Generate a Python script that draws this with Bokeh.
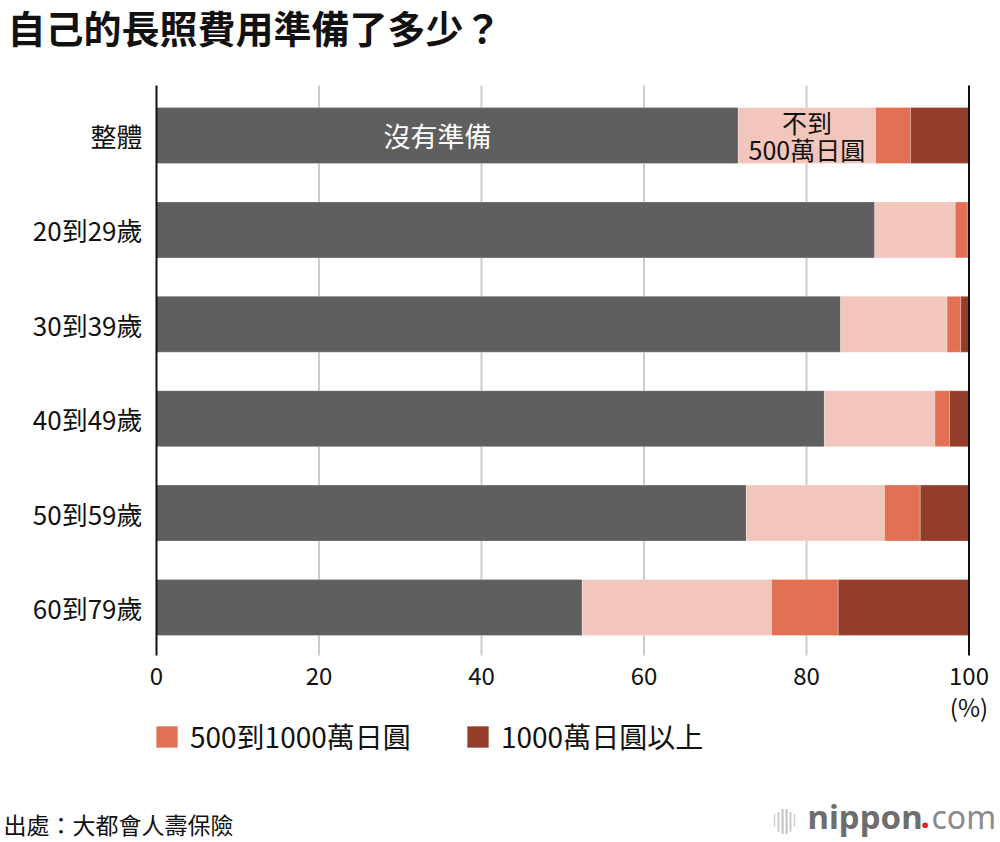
from bokeh.plotting import figure
from bokeh.models import ColumnDataSource, Range1d, Label, Legend, LegendItem
from bokeh.core.properties import value
from bokeh.embed import file_html
from bokeh.resources import INLINE

categories = ["整體", "20到29歲", "30到39歲", "40到49歲", "50到59歲", "60到79歲"]
series_names = ["沒有準備", "不到500萬日圓", "500到1000萬日圓", "1000萬日圓以上"]
none_prep = [71.6, 88.4, 84.2, 82.2, 72.6, 52.4]
under500 = [16.9, 9.9, 13.1, 13.6, 17.0, 23.3]
mid500_1000 = [4.3, 1.5, 1.7, 1.8, 4.4, 8.2]
over1000 = [7.2, 0.2, 1.0, 2.4, 6.0, 16.1]
x_ticks = [0, 20, 40, 60, 80, 100]
x_tick_labels = ["0", "20", "40", "60", "80", "100"]
unit_label = "(%)"
title_text = "自己的長照費用準備了多少？"
source_text = "出處：大都會人壽保險"

colors = ["#5f5f5f", "#f2c6bc", "#e27055", "#943d2a"]
FONT = "Noto Sans CJK TC"

W, H = 1000, 842
# pixel geometry of the plotting area (page pixels)
PL, PR, PT, PB = 156.0, 968.5, 85.0, 655.0
px_x = (PR - PL) / 100.0
ROW0, ROW_STEP = 135.0, 94.4
px_y = ROW_STEP

def dx(page_x):
    return (page_x - PL) / px_x

def dy(page_y):
    return (page_y - ROW0) / px_y

src = ColumnDataSource(dict(
    y=list(range(len(categories))),
    s0=none_prep, s1=under500, s2=mid500_1000, s3=over1000,
))

p = figure(width=W, height=H, output_backend="svg", toolbar_location=None,
           x_range=Range1d(dx(0), dx(W)), y_range=Range1d(dy(H), dy(0)),
           x_axis_type=None, y_axis_type=None,
           min_border=0, min_border_left=0, min_border_right=0,
           min_border_top=0, min_border_bottom=0)
p.outline_line_color = None
p.background_fill_color = "white"
p.border_fill_color = "white"

# vertical grid lines (grey) and the 0 / 100 boundary lines (black)
inner = x_ticks[1:-1]
p.segment(x0=inner, x1=inner, y0=[dy(PT)] * len(inner), y1=[dy(PB)] * len(inner),
          line_color="#cccccc", line_width=2)

rs = p.hbar_stack(["s0", "s1", "s2", "s3"], y="y", height=56 / ROW_STEP, color=colors,
                  line_color="white", line_alpha=0.35, line_width=0.8, source=src)

edges = [x_ticks[0], x_ticks[-1]]
p.segment(x0=edges, x1=edges, y0=[dy(PT)] * 2, y1=[dy(PB)] * 2,
          line_color="#111111", line_width=2)

# x tick labels
p.text(x=x_ticks, y=[dy(675)] * len(x_ticks), text=x_tick_labels,
       text_font=value(FONT), text_font_size="24px", text_color="#111111",
       text_align="center", text_baseline="middle")
p.text(x=[x_ticks[-1]], y=[dy(706)], text=[unit_label],
       text_font=value(FONT), text_font_size="24px", text_color="#111111",
       text_align="center", text_baseline="middle")

# y category labels
p.text(x=[dx(142)] * len(categories), y=list(range(len(categories))), text=categories,
       text_font=value(FONT), text_font_size="26px", text_color="#111111",
       text_align="right", text_baseline="middle")

# in-bar annotations
p.add_layout(Label(x=dx(437), y=0, text=series_names[0], text_font=FONT,
                   text_font_size="27px", text_color="white",
                   text_align="center", text_baseline="middle"))
mid_x = none_prep[0] + under500[0] / 2
p.add_layout(Label(x=mid_x, y=dy(121), text="不到", text_font=FONT,
                   text_font_size="25px", text_color="#111111",
                   text_align="center", text_baseline="middle"))
p.add_layout(Label(x=mid_x, y=dy(148), text="500萬日圓", text_font=FONT,
                   text_font_size="25px", text_color="#111111",
                   text_align="center", text_baseline="middle"))

# title
p.add_layout(Label(x=dx(7), y=dy(26), text=title_text, text_font=FONT,
                   text_font_size="38px", text_font_style="bold", text_color="#111111",
                   text_align="left", text_baseline="middle"))

# legends (one per item, placed independently)
def make_legend(name, renderer, left_px):
    return Legend(items=[LegendItem(label=name, renderers=[renderer])],
                  orientation="horizontal", location=(left_px, H - 756),
                  glyph_width=27, glyph_height=27, label_height=27,
                  label_standoff=10, padding=0, margin=0,
                  border_line_color=None, background_fill_alpha=0,
                  label_text_font=FONT, label_text_font_size="28px",
                  label_text_color="#111111", label_text_baseline="middle")

p.add_layout(make_legend(series_names[2], rs[2], 153), "center")
p.add_layout(make_legend(series_names[3], rs[3], 464), "center")

# footer
p.add_layout(Label(x=dx(3), y=dy(823), text=source_text, text_font=FONT,
                   text_font_size="23px", text_color="#111111",
                   text_align="left", text_baseline="middle"))
for bx, fs in zip([774, 778, 782, 786, 790, 794], ["13px", "19px", "24px", "24px", "19px", "13px"]):
    p.add_layout(Label(x=dx(bx), y=dy(819), text="|", text_font="DejaVu Sans",
                       text_font_size=fs, text_color="#c4c4c4",
                       text_align="center", text_baseline="middle"))
p.add_layout(Label(x=dx(807), y=dy(816), text="nippon", text_font="Noto Sans",
                   text_font_size="33px", text_font_style="bold", text_color="#6e6e6e",
                   text_align="left", text_baseline="middle"))
p.add_layout(Label(x=dx(920), y=dy(816), text=".", text_font="Noto Sans",
                   text_font_size="33px", text_font_style="bold", text_color="#e8202a",
                   text_align="left", text_baseline="middle"))
p.add_layout(Label(x=dx(931), y=dy(816), text="com", text_font="Noto Sans",
                   text_font_size="32px", text_color="#8a8a8a",
                   text_align="left", text_baseline="middle"))

open("out.html", "w").write(file_html(p, INLINE))
